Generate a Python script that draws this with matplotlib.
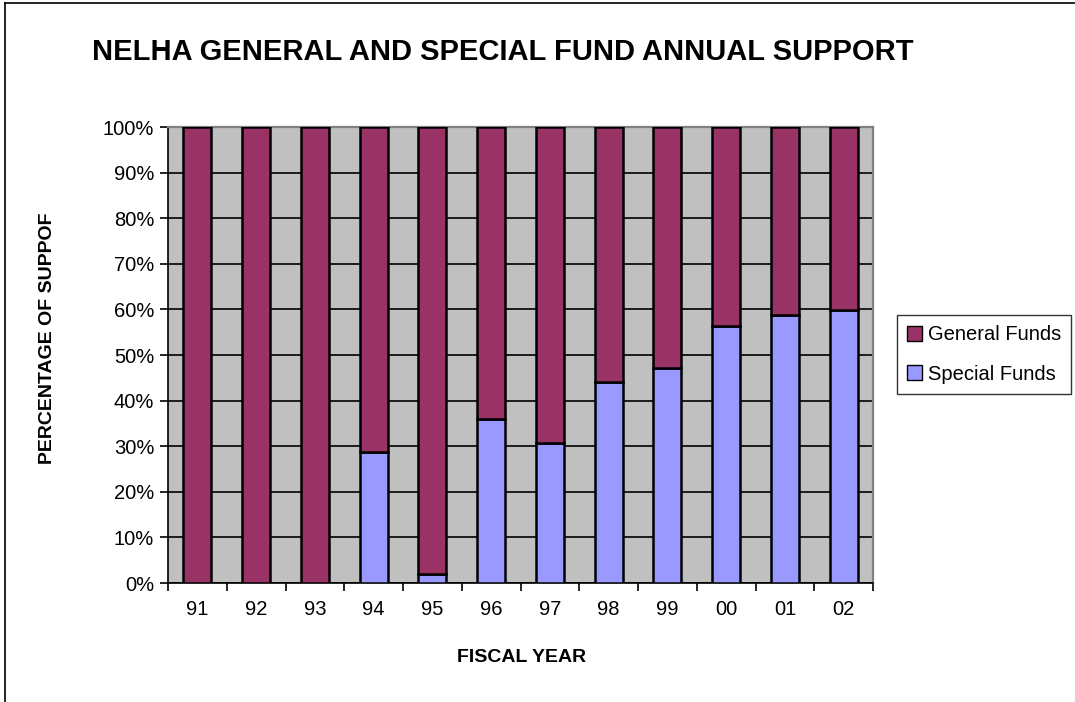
import numpy as np
import matplotlib.pyplot as plt
from matplotlib.patches import Patch
from matplotlib.lines import Line2D

years = ["91", "92", "93", "94", "95", "96", "97", "98", "99", "00", "01", "02"]
special = [0.0, 0.0, 0.0, 28.8, 2.0, 35.9, 30.7, 44.1, 47.2, 56.4, 58.7, 59.8]
general = [100 - s for s in special]

plt.rcParams['font.family'] = ['Liberation Sans', 'DejaVu Sans']

fig = plt.figure(figsize=(10.75, 7.02), dpi=100)
ax = fig.add_axes([0.1563, 0.1695, 0.6558, 0.6495])
ax.set_facecolor('#C0C0C0')

x = np.arange(len(years))
ax.bar(x, special, width=0.48, color='#9999FF', edgecolor='black', linewidth=1.8, zorder=3)
ax.bar(x, general, bottom=special, width=0.48, color='#993366', edgecolor='black',
       linewidth=1.8, zorder=3)

ax.set_xlim(-0.5, len(years) - 0.5)
ax.set_ylim(0, 100)
ax.set_yticks(np.arange(0, 101, 10))
ax.set_yticklabels(["%d%%" % v for v in range(0, 101, 10)], fontsize=14.5)
ax.yaxis.grid(True, color='black', linewidth=1.2)
ax.set_axisbelow(True)

ax.set_xticks(x)
ax.set_xticklabels(years, fontsize=14.5)
ax.set_xticks(np.arange(-0.5, len(years)), minor=True)
ax.tick_params(axis='x', which='major', length=0, pad=12)
ax.tick_params(axis='x', which='minor', length=6, width=1.2)
ax.tick_params(axis='y', length=6, width=1.2, pad=4)

for s in ['top', 'right']:
    ax.spines[s].set_color('#808080')
    ax.spines[s].set_linewidth(1.6)
for s in ['left', 'bottom']:
    ax.spines[s].set_linewidth(1.2)

fig.text(0.468, 0.926, "NELHA GENERAL AND SPECIAL FUND ANNUAL SUPPORT", ha='center',
         va='center', fontsize=21, fontweight='bold')
fig.text(0.044, 0.518, "PERCENTAGE OF SUPPOF", rotation=90, ha='center', va='center',
         fontsize=14, fontweight='bold')
fig.text(0.485, 0.064, "FISCAL YEAR", ha='center', va='center', fontsize=14, fontweight='bold')

handles = [Patch(facecolor='#993366', edgecolor='black', label='General Funds'),
           Patch(facecolor='#9999FF', edgecolor='black', label='Special Funds')]
fig.legend(handles=handles, loc='center left', bbox_to_anchor=(0.834, 0.495),
           fontsize=14.5, frameon=True, fancybox=False, edgecolor='black',
           handlelength=0.75, handleheight=0.75, handletextpad=0.3, borderpad=0.5,
           labelspacing=1.0, borderaxespad=0)

# outer chart border (left and top edges show in the reference)
fig.add_artist(Line2D([0.005, 0.005], [0.0, 0.996], transform=fig.transFigure,
                      color='black', linewidth=1.2))
fig.add_artist(Line2D([0.005, 1.0], [0.996, 0.996], transform=fig.transFigure,
                      color='black', linewidth=1.2))

fig.savefig("out.png", dpi=100)
